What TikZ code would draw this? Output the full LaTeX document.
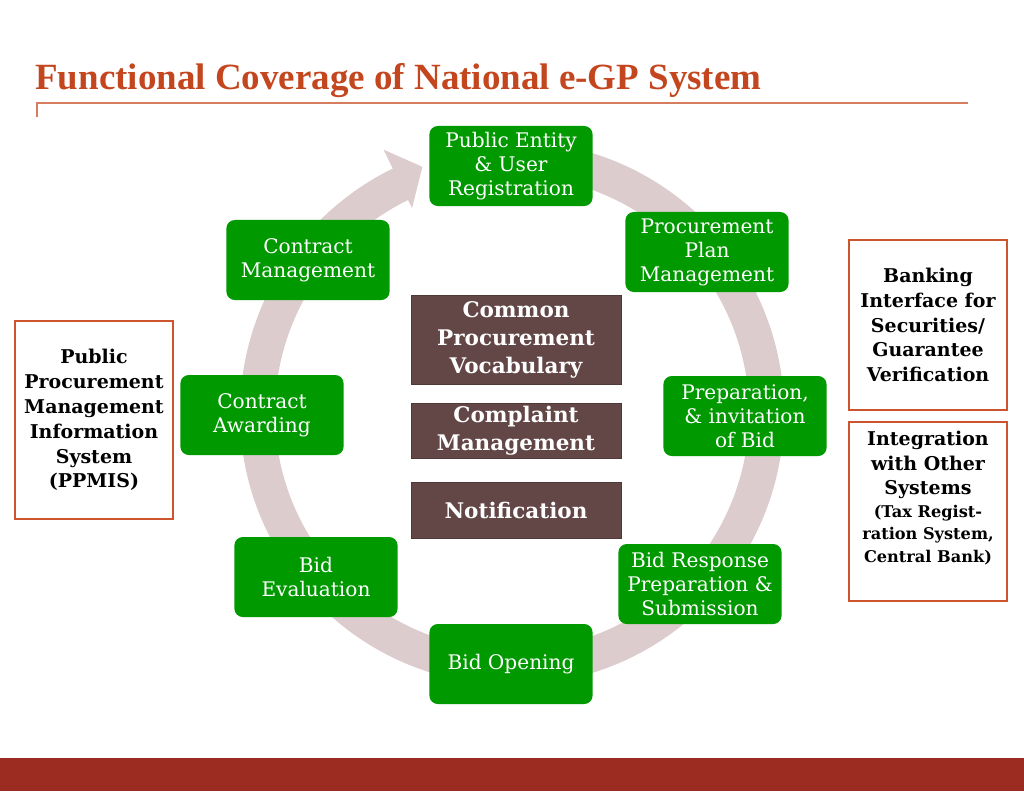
\documentclass[tikz,border=0pt]{standalone}
\usepackage{fontspec}
\setmainfont{DejaVu Serif}
\newfontfamily\titlefont{Liberation Serif}
\usetikzlibrary{positioning}

\definecolor{stagegreen}{RGB}{0,153,0}
\definecolor{corebrown}{RGB}{99,70,70}
\definecolor{ringpink}{RGB}{221,204,206}
\definecolor{extorange}{RGB}{205,85,45}
\definecolor{titlered}{RGB}{196,70,30}
\definecolor{barred}{RGB}{156,43,34}
\definecolor{ruleorange}{RGB}{215,125,95}

\newcommand\notefont{\fontsize{11.5}{14}\selectfont}

\tikzset{
    stage/.style={rectangle, rounded corners=6pt, fill=stagegreen, text=white,
        minimum width=4.08cm, minimum height=2cm, inner sep=1pt, align=center,
        font=\fontsize{14.3}{17}\selectfont},
    core/.style={rectangle, fill=corebrown, draw=corebrown!80!black, text=white,
        minimum width=5.25cm, inner sep=1pt, align=center,
        font=\fontsize{15.3}{19.8}\selectfont\bfseries},
    extbox/.style={rectangle, draw=extorange, line width=1.4pt, minimum width=3.97cm,
        inner sep=1pt, align=center, font=\fontsize{13.5}{17.7}\selectfont\bfseries},
}

\begin{document}
\begin{tikzpicture}[x=0.025cm, y=-0.025cm]
    \useasboundingbox (0,0) rectangle (1024,791);

    % title and rule
    \node[anchor=base west, inner sep=0pt, text=titlered,
        font=\titlefont\fontsize{26.3}{30}\selectfont\bfseries] (title) at (35,89)
        {Functional Coverage of National e-GP System};
    \draw[ruleorange, line width=0.8pt] (37,117) -- (37,103) -- (968,103);
    \fill[barred] (0,758) rectangle (1024,791);

    % cycle arrow
    \begin{scope}[shift={(512,413)}, x=0.025cm, y=0.025cm]
        \fill[ringpink] (80:272) arc[start angle=80, end angle=-244, radius=272]
            -- (-244:293) -- (-250:262) -- (-244:228) -- (-244:237)
            arc[start angle=-244, end angle=80, radius=237] -- cycle;
    \end{scope}

    % stages
    \node[stage] (reg) at (511,166) {Public Entity\\\& User\\Registration};
    \node[stage] (plan) at (707,252) {Procurement\\Plan\\Management};
    \node[stage] (prep) at (745,416) {Preparation,\\\& invitation\\of Bid};
    \node[stage] (resp) at (700,584) {Bid Response\\Preparation \&\\Submission};
    \node[stage] (open) at (511,664) {Bid Opening};
    \node[stage] (eval) at (316,577) {Bid\\Evaluation};
    \node[stage] (award) at (262,415) {Contract\\Awarding};
    \node[stage] (manage) at (308,260) {Contract\\Management};

    % common modules
    \node[core, minimum height=2.22cm] (vocab) at (516,340) {Common\\Procurement\\Vocabulary};
    \node[core, minimum height=1.38cm, below=0.45cm of vocab] (complaint) {Complaint\\Management};
    \node[core, minimum height=1.38cm, below=0.6cm of complaint] (notify) {Notification};

    % external systems
    \node[extbox, minimum height=4.93cm] (ppmis) at (94,420)
        {Public\\Procurement\\Management\\Information\\System\\(PPMIS)};
    \node[extbox, minimum height=4.23cm] (bank) at (928,325)
        {Banking\\Interface for\\Securities/\\Guarantee\\Verification};
    \node[extbox, minimum height=4.48cm, below=0.25cm of bank] (integ)
        {Integration\\with Other\\Systems\\[-2pt]{\notefont(Tax Regist-}\\[-1.5pt]{\notefont ration System,}\\[-1.5pt]{\notefont Central Bank)}\\[3pt]};
\end{tikzpicture}
\end{document}
